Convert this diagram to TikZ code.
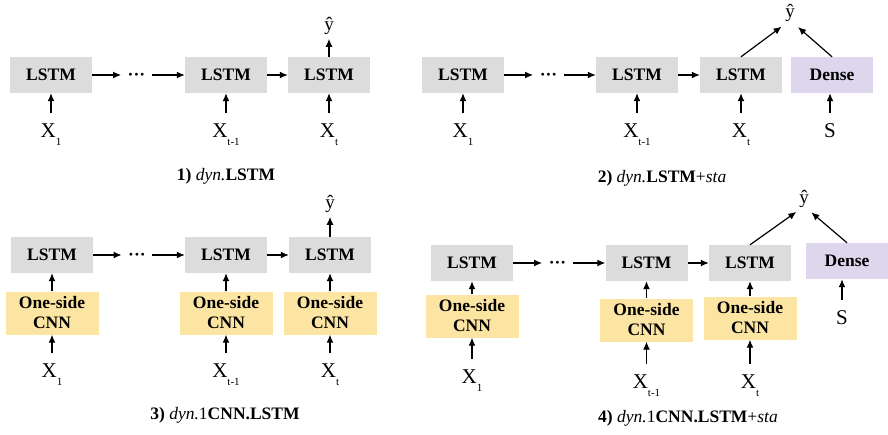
\documentclass[tikz,border=0pt]{standalone}
\usepackage{fontspec}
\setmainfont{Liberation Serif}
\usetikzlibrary{arrows.meta}
\definecolor{boxgray}{HTML}{DCDCDC}
\definecolor{cnnyellow}{HTML}{FCE4A2}
\definecolor{denselav}{HTML}{DDD6EC}
\newcommand{\Xs}[1]{X\raisebox{-8pt}{\fontsize{11}{11}\selectfont #1}}
\begin{document}
\begin{tikzpicture}[x=1pt,y=-1pt,
  lstm/.style={fill=boxgray,minimum width=82pt,minimum height=36pt,inner sep=0pt,
    font=\fontsize{17.5}{20}\selectfont\bfseries},
  cnn/.style={fill=cnnyellow,minimum width=93pt,minimum height=43pt,inner sep=0pt,align=center,
    font=\fontsize{17.5}{20}\selectfont\bfseries},
  dense/.style={fill=denselav,minimum width=82pt,minimum height=36pt,inner sep=0pt,
    font=\fontsize{17.5}{20}\selectfont\bfseries},
  dotsnode/.style={inner xsep=6.5pt,inner ysep=0pt,anchor=base,font=\fontsize{17.5}{20}\selectfont\bfseries},
  inp/.style={inner sep=0pt,anchor=base,font=\fontsize{21}{21}\selectfont},
  yhat/.style={inner sep=0pt,font=\fontsize{19}{19}\selectfont},
  captext/.style={inner sep=0pt,font=\fontsize{17.5}{20}\selectfont},
  arr/.style={line width=1.2pt,-{Latex[length=8pt,width=7pt]}},
  inarr/.style={arr,shorten <=10pt},
]
\useasboundingbox (0,0) rectangle (888,434);

% ---------- Panel 1 ----------
\node[lstm] (L11) at (51,75) {LSTM};
\node[dotsnode] (d1) at (136.5,80) {···};
\node[lstm] (L12) at (226,75) {LSTM};
\node[lstm] (L13) at (329,75) {LSTM};
\node[yhat] (y1) at (329,26) {ŷ};
\node[inp] (X11) at (51,137) {\Xs{1}};
\node[inp] (X12) at (226,137) {\Xs{t-1}};
\node[inp] (X13) at (329,137) {\Xs{t}};
\draw[arr] (L11.east) -- (L11.east -| d1.west);
\draw[arr] (L12.west -| d1.east) -- (L12.west);
\draw[arr] (L12.east) -- (L13.west);
\draw[arr,shorten >=4pt] (L13.north) -- (y1.south);
\draw[inarr] (X11.north) -- (L11.south);
\draw[inarr] (X12.north) -- (L12.south);
\draw[inarr] (X13.north) -- (L13.south);
\node[captext] (c1) at (226,176) {\textbf{1)} \textit{dyn.}\textbf{LSTM}};

% ---------- Panel 2 ----------
\node[lstm] (L21) at (463,75) {LSTM};
\node[dotsnode] (d2) at (548.5,80) {···};
\node[lstm] (L22) at (637,75) {LSTM};
\node[lstm] (L23) at (741,75) {LSTM};
\node[dense] (D2) at (832,75) {Dense};
\node[yhat] (y2) at (790,13) {ŷ};
\node[inp] (X21) at (463,137) {\Xs{1}};
\node[inp] (X22) at (637,137) {\Xs{t-1}};
\node[inp] (X23) at (741,137) {\Xs{t}};
\node[inp] (S2) at (830,137) {S};
\draw[arr] (L21.east) -- (L21.east -| d2.west);
\draw[arr] (L22.west -| d2.east) -- (L22.west);
\draw[arr] (L22.east) -- (L23.west);
\draw[arr,shorten >=8pt] (L23.north) -- ([xshift=-2pt]y2.south);
\draw[arr,shorten >=8pt] (D2.north) -- ([xshift=2pt]y2.south);
\draw[inarr] (X21.north) -- (L21.south);
\draw[inarr] (X22.north) -- (L22.south);
\draw[inarr] (X23.north) -- (L23.south);
\draw[inarr] (S2.north) -- (S2.north |- D2.south);
\node[captext] (c2) at (662,178) {\textbf{2)} \textit{dyn.}\textbf{LSTM}+\textit{sta}};

% ---------- Panel 3 ----------
\node[lstm] (L31) at (52,255) {LSTM};
\node[dotsnode] (d3) at (137,260) {···};
\node[lstm] (L32) at (226,255) {LSTM};
\node[lstm] (L33) at (330,255) {LSTM};
\node[cnn] (C31) at (52,313) {One-side\\CNN};
\node[cnn] (C32) at (226,313) {One-side\\CNN};
\node[cnn] (C33) at (330,313) {One-side\\CNN};
\node[yhat] (y3) at (330,204) {ŷ};
\node[inp] (X31) at (52,377) {\Xs{1}};
\node[inp] (X32) at (226,377) {\Xs{t-1}};
\node[inp] (X33) at (330,377) {\Xs{t}};
\draw[arr] (L31.east) -- (L31.east -| d3.west);
\draw[arr] (L32.west -| d3.east) -- (L32.west);
\draw[arr] (L32.east) -- (L33.west);
\draw[arr,shorten >=4pt] (L33.north) -- (y3.south);
\draw[arr] (C31.north) -- (L31.south);
\draw[arr] (C32.north) -- (L32.south);
\draw[arr] (C33.north) -- (L33.south);
\draw[inarr] (X31.north) -- (C31.south);
\draw[inarr] (X32.north) -- (C32.south);
\draw[inarr] (X33.north) -- (C33.south);
\node[captext] (c3) at (225,415) {\textbf{3)} \textit{dyn.}1\textbf{CNN.LSTM}};

% ---------- Panel 4 ----------
\node[lstm] (L41) at (472,263) {LSTM};
\node[dotsnode] (d4) at (557.5,268) {···};
\node[lstm] (L42) at (646.5,263) {LSTM};
\node[lstm] (L43) at (750,263) {LSTM};
\node[dense] (D4) at (847,261) {Dense};
\node[cnn] (C41) at (472,316) {One-side\\CNN};
\node[cnn] (C42) at (646.5,320) {One-side\\CNN};
\node[cnn] (C43) at (750,318) {One-side\\CNN};
\node[yhat] (y4) at (804,199) {ŷ};
\node[inp] (X41) at (472,383) {\Xs{1}};
\node[inp] (X42) at (646.5,388) {\Xs{t-1}};
\node[inp] (X43) at (750,388) {\Xs{t}};
\node[inp] (S4) at (842,324) {S};
\draw[arr] (L41.east) -- (L41.east -| d4.west);
\draw[arr] (L42.west -| d4.east) -- (L42.west);
\draw[arr] (L42.east) -- (L43.west);
\draw[arr,shorten >=7pt] (L43.north) -- ([xshift=-2pt]y4.south);
\draw[arr,shorten >=7pt] (D4.north) -- ([xshift=2pt]y4.south);
\draw[arr] (C41.north) -- (L41.south);
\draw[arr] (C42.north) -- (L42.south);
\draw[arr] (C43.north) -- (L43.south);
\draw[inarr] (X41.north) -- (C41.south);
\draw[inarr] (X42.north) -- (C42.south);
\draw[inarr] (X43.north) -- (C43.south);
\draw[inarr] (S4.north) -- (S4.north |- D4.south);
\node[captext] (c4) at (688,418) {\textbf{4)} \textit{dyn.}1\textbf{CNN.LSTM}+\textit{sta}};
\end{tikzpicture}
\end{document}
